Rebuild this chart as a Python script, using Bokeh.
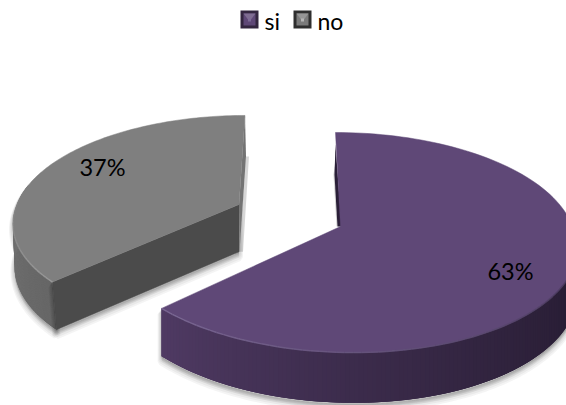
import math
from bokeh.embed import file_html
from bokeh.models import Range1d
from bokeh.plotting import figure
from bokeh.resources import INLINE
from bokeh.core.properties import value

categories = ["si", "no"]
shares = [63, 37]
top_colors = ["#5f4877", "#7f7f7f"]
edge_colors = ["#7d6a96", "#9a9a9a"]

FONT = value("Lato")
W, H = 566, 405
TILT = 0.1455

# Projection of each exploded slice:
# apex x, apex y, radius x, radius y, wall depth, far-side skew, near-side skew
slice_geometry = {
    "si": (340.0, 226.0, 232.0, 107.7, 43.0, -5.0, 13.0),
    "no": (238.5, 204.0, 222.0, 102.0, 43.0, 6.0, -10.0),
}


def project(geom, theta):
    """Map an angle, clockwise from twelve o'clock, onto the tilted disc."""
    cx, cy, rx, ry, _, far, near = geom
    u, v = math.sin(theta), math.cos(theta)
    f = 1.0 / (1.0 + TILT * v)
    skew = far * v if v > 0 else near * -v
    return cx + rx * u * f + skew, cy - ry * v * f, f


def arc(geom, a0, a1, n=120):
    return [project(geom, a0 + (a1 - a0) * i / n) for i in range(n + 1)]


def mix(c0, c1, t):
    a = [int(c0[i:i + 2], 16) for i in (1, 3, 5)]
    b = [int(c1[i:i + 2], 16) for i in (1, 3, 5)]
    return "#%02x%02x%02x" % tuple(round(x + (y - x) * t) for x, y in zip(a, b))


p = figure(width=W, height=H, output_backend="svg", toolbar_location=None,
           x_range=Range1d(0, W), y_range=Range1d(H, 0), min_border=0)
p.axis.visible = False
p.grid.visible = False
p.outline_line_color = None
p.background_fill_color = "white"
p.border_fill_color = "white"

# Slice angles follow from the shares, starting at twelve o'clock
total = sum(shares)
split = 2 * math.pi * shares[0] / total
angles = {"si": (0.0, split), "no": (split, 2 * math.pi)}


def soft_shadow(xs, ys, layers=5):
    for i in range(layers, 0, -1):
        p.patch(list(xs), [y + i * 1.1 for y in ys],
                fill_color="#000000", fill_alpha=0.045, line_color="#000000",
                line_alpha=0.045, line_width=i * 1.6)


def wall(geom, a0, a1, shade, foot_at_a0=0.0, foot_at_a1=0.0):
    """Outer rim of a slice; strips overlap their neighbours so no seams show."""
    d = geom[4]
    n = 150
    pts = arc(geom, a0, a1, n)
    lower = [(x + foot_at_a0 * (1 - i / n) + foot_at_a1 * i / n, y + d * f)
             for i, (x, y, f) in enumerate(pts)]
    xs_all = [q[0] for q in pts] + [q[0] for q in lower[::-1]]
    ys_all = [q[1] for q in pts] + [q[1] for q in lower[::-1]]
    soft_shadow(xs_all, ys_all)
    strips_x, strips_y, colors = [], [], []
    for i in range(n):
        j = min(i + 3, n)
        strips_x.append([pts[i][0], pts[j][0], lower[j][0], lower[i][0]])
        strips_y.append([pts[i][1], pts[j][1], lower[j][1], lower[i][1]])
        colors.append(shade(i / (n - 1)))
    p.patches(strips_x, strips_y, fill_color=colors, line_color=None)


# Grey slice sits behind the purple one
g = slice_geometry["no"]
a0, a1 = angles["no"]
gx, gy, gf = project(g, a0)
corner_bottom = (gx + 4, gy + g[4] * gf)
wall(g, a0, a0 + 0.95, lambda t: mix("#666666", "#757575", t), foot_at_a0=4.0)
apex_bottom = (g[0], g[1] + g[4] * 1.1)
radial_x = [g[0], gx, corner_bottom[0], apex_bottom[0]]
radial_y = [g[1], gy, corner_bottom[1], apex_bottom[1]]
soft_shadow(radial_x, radial_y)
p.patch(radial_x, radial_y, fill_color="#4b4b4b", line_color="#4b4b4b", line_width=0.5)

# Sliver and soft shadow beside the grey slice's back edge
tx, ty, _ = project(g, a1)
p.patch([tx + 1, tx + 4, apex_bottom[0] + 4, apex_bottom[0]], [ty + 41, ty + 41, apex_bottom[1], apex_bottom[1]],
        fill_color="#000000", fill_alpha=0.16, line_color=None)
p.patch([tx, tx + 1, apex_bottom[0] + 0.5, g[0]], [ty, ty + 41, apex_bottom[1], g[1]],
        fill_color="#737373", line_color=None)

pts = arc(g, a0, a1)
p.patch([g[0]] + [q[0] for q in pts], [g[1]] + [q[1] for q in pts],
        fill_color=top_colors[1], line_color=top_colors[1], line_width=0.5)
n = 40
seg = arc(g, a0, a0 + 1.0, n)
p.multi_line([[seg[i][0], seg[i + 1][0]] for i in range(n)],
             [[seg[i][1], seg[i + 1][1]] for i in range(n)],
             line_color=edge_colors[1], line_width=1.5,
             line_alpha=[0.9 * (1 - i / n) for i in range(n)])

# Purple slice
s = slice_geometry["si"]
a0, a1 = angles["si"]
sx, sy, _ = project(s, a1)
rim_start = 1.45
wall(s, rim_start, a1, lambda t: mix("#241a2f", "#4f3a63", t ** 1.5))

# Dark inner sliver along the back edge
tx, ty, _ = project(s, a0)
p.patch([tx, tx - 2, s[0] - 4, s[0] + 1], [ty + 28, ty + 42, s[1], s[1]],
        fill_color="#000000", fill_alpha=0.18, line_color=None)
p.patch([tx, tx - 1, s[0] - 3, s[0] + 1], [ty + 12, ty + 42, s[1], s[1]],
        fill_color="#2a1f38", line_color=None)

pts = arc(s, a0, a1)
p.patch([s[0]] + [q[0] for q in pts], [s[1]] + [q[1] for q in pts],
        fill_color=top_colors[0], line_color=top_colors[0], line_width=0.5)
n = 80
seg = arc(s, rim_start, a1, n)
p.multi_line([[seg[i][0], seg[i + 1][0]] for i in range(n)],
             [[seg[i][1], seg[i + 1][1]] for i in range(n)],
             line_color=[mix("#3a2b4c", edge_colors[0], i / n) for i in range(n)],
             line_width=1.5, line_alpha=0.9)

# Percentage labels placed inside each slice's top face, offset from its apex
label_offset = {"si": (170, 44), "no": (-136.5, -38)}
for name, share in zip(categories, shares):
    geom = slice_geometry[name]
    dx, dy = label_offset[name]
    p.text([geom[0] + dx], [geom[1] + dy], text=[f"{share}%"], text_font=FONT,
           text_font_size="23.5px", text_color="#000000",
           text_align="center", text_baseline="middle")

# Legend swatches with their bevelled centres, followed by the names
swatch_left = [240, 293]
swatch_inner = [("#33263f", "#5f4877", "#7d6a96"), ("#2e2e2e", "#7a7a7a", "#b5b5b5")]
text_left = [264, 317]
for name, x0, shades, tx in zip(categories, swatch_left, swatch_inner, text_left):
    p.quad(left=[x0], right=[x0 + 18], top=[10], bottom=[28], fill_color=shades[0], line_color=None)
    p.quad(left=[x0 + 3], right=[x0 + 15], top=[13], bottom=[25], fill_color=shades[1], line_color=None)
    p.patch([x0 + 3, x0 + 15, x0 + 10.5, x0 + 7.5], [13, 13, 19, 19], fill_color=mix(shades[1], "#ffffff", 0.2), line_color=None)
    p.quad(left=[x0 + 7.5], right=[x0 + 10.5], top=[18], bottom=[21], fill_color=shades[2], line_color=None)
    p.text([tx], [20], text=[name], text_font=FONT, text_font_size="23px",
           text_color="#000000", text_align="left", text_baseline="middle")

open("out.html", "w").write(file_html(p, INLINE))
